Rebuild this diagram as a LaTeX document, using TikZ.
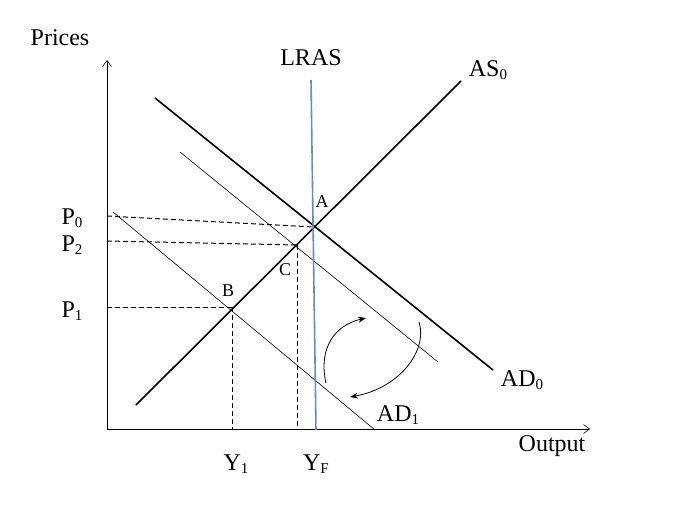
\documentclass[tikz,border=0pt]{standalone}
\usepackage{fontspec}
\setmainfont{Liberation Serif}
\usetikzlibrary{arrows.meta}
\begin{document}
\begin{tikzpicture}[x=1pt,y=-1pt,
  lbl/.style={font=\fontsize{24}{28}\selectfont,inner sep=0pt},
  pt/.style={font=\fontsize{18}{20}\selectfont,inner sep=0pt},
  thick line/.style={line width=1.6pt},
  thin line/.style={line width=0.6pt},
  dsh/.style={line width=1pt,dash pattern=on 5pt off 3pt}]
\useasboundingbox (0,0) rectangle (682,512);
\newcommand{\sub}[1]{\raisebox{-0.25ex}{\fontsize{15}{16}\selectfont #1}}
\coordinate (O) at (107,429);
\coordinate (Ytop) at (107,60);
\coordinate (Xend) at (590,429);
\draw[line width=0.6pt,-{Straight Barb[length=6pt,width=9pt]}] (O) -- (Ytop);
\draw[line width=0.6pt,-{Straight Barb[length=6pt,width=9pt]}] (O) -- (Xend);
\node[lbl] (prices) at (60,38) {Prices};
\node[lbl] (output) at (552,446) {Output};
\coordinate (ad0a) at (155,98); \coordinate (ad0b) at (493,370);
\coordinate (ad2a) at (180,152); \coordinate (ad2b) at (438,362);
\coordinate (ad1a) at (113,212); \coordinate (ad1b) at (375,430);
\coordinate (asa) at (136,405); \coordinate (asb) at (461,81);
\coordinate (lra) at (311,80); \coordinate (lrb) at (316,430);
\draw[thick line] (ad0a) -- (ad0b);
\draw[thin line] (ad2a) -- (ad2b);
\draw[thin line] (ad1a) -- (ad1b);
\draw[thick line] (asa) -- (asb);
\draw[line width=1.6pt,color={rgb,255:red,100;green,140;blue,200}] (lra) -- (lrb);
\node[lbl] (lras) at (311,58) {LRAS};
\node[lbl] (as0) at (488,70) {AS\sub{0}};
\node[lbl] (ad0l) at (522,380) {AD\sub{0}};
\node[lbl] (ad1l) at (398,415) {AD\sub{1}};
\coordinate (A) at (314,227);
\coordinate (C) at (297,245);
\coordinate (B) at (232,307);
\node[pt] (Al) at (322,202) {A};
\node[pt] (Cl) at (285,270) {C};
\node[pt] (Bl) at (228,291) {B};
\coordinate (p0) at (107,216);
\coordinate (p2) at (107,241);
\coordinate (p1) at (107,307);
\draw[dsh] (p0) -- (A);
\draw[dsh] (p2) -- (C);
\draw[dsh] (p1) -- (B);
\draw[dsh] (C) -- (297,429);
\draw[dsh] (B) -- (232,429);
\node[lbl] (P0) at (72,218) {P\sub{0}};
\node[lbl] (P2) at (72,245) {P\sub{2}};
\node[lbl] (P1) at (72,311) {P\sub{1}};
\node[lbl] (Y1) at (236,464) {Y\sub{1}};
\node[lbl] (YF) at (316,464) {Y\sub{F}};
\coordinate (c1s) at (326,383); \coordinate (c1e) at (366,318);
\coordinate (c2s) at (419,322); \coordinate (c2e) at (350,397);
\draw[line width=0.8pt,-{Stealth[length=8pt,width=6pt]}] (c1s) .. controls (318,348) and (335,325) .. (c1e);
\draw[line width=0.8pt,-{Stealth[length=8pt,width=6pt]}] (c2s) .. controls (428,350) and (400,388) .. (c2e);
\end{tikzpicture}
\end{document}
